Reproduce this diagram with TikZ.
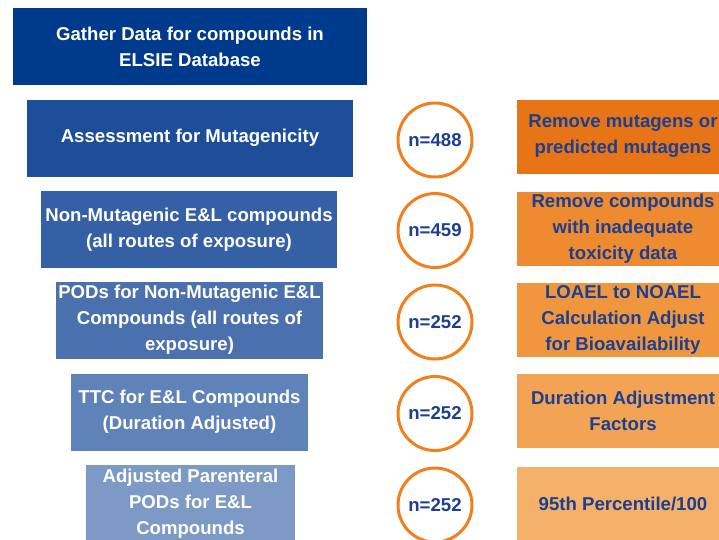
\documentclass[tikz,border=0pt]{standalone}
\usepackage{fontspec}
\setmainfont{Liberation Sans}
\definecolor{bA}{HTML}{003A8C}
\definecolor{bB}{HTML}{1E4E9A}
\definecolor{bC}{HTML}{3560A5}
\definecolor{bD}{HTML}{4A70AE}
\definecolor{bE}{HTML}{5F82B8}
\definecolor{bF}{HTML}{7D9AC6}
\definecolor{oA}{HTML}{E87418}
\definecolor{oB}{HTML}{EE8A2F}
\definecolor{oC}{HTML}{F0963F}
\definecolor{oD}{HTML}{F2A454}
\definecolor{oE}{HTML}{F5B06A}
\definecolor{ring}{HTML}{F07F1E}
\definecolor{navy}{HTML}{1C3F8F}
\begin{document}
\begin{tikzpicture}[x=1pt,y=-1pt,
  bluebox/.style={fill=#1, draw=none, text=white, align=center, minimum height=77pt, inner sep=0pt,
    font=\fontsize{18.6}{26}\selectfont\bfseries},
  orangebox/.style={fill=#1, draw=none, text=navy, align=center, minimum height=74pt, minimum width=212pt, inner sep=0pt,
    font=\fontsize{18.6}{26}\selectfont\bfseries},
  countring/.style={circle, draw=ring, line width=3pt, fill=white, minimum size=74pt, inner sep=0pt, text=navy,
    font=\fontsize{18.6}{22}\selectfont\bfseries}]
\useasboundingbox (0,0) rectangle (719,539);
\clip (0,0) rectangle (719,539);
\fill[white] (0,0) rectangle (719,539);
% blue column
\node[bluebox=bA, minimum width=354pt] (g) at (190,46.5) {Gather Data for compounds in\\ELSIE Database};
\node[bluebox=bB, minimum width=326pt] (m) at (190,138) {Assessment for Mutagenicity};
\node[bluebox=bC, minimum width=296pt] (nm) at (189,229.5) {Non-Mutagenic E\&L compounds\\(all routes of exposure)};
\node[bluebox=bD, minimum width=267pt] (pod) at (189.5,320) {PODs for Non-Mutagenic E\&L\\Compounds (all routes of\\exposure)};
\node[bluebox=bE, minimum width=237pt] (ttc) at (189.5,412) {TTC for E\&L Compounds\\(Duration Adjusted)};
\node[bluebox=bF, minimum width=209pt] (adj) at (190.5,503.5) {Adjusted Parenteral\\PODs for E\&L\\Compounds};
% counts
\node[countring] (c1) at (435,140) {n=488};
\node[countring] (c2) at (435,230.5) {n=459};
\node[countring] (c3) at (435,322) {n=252};
\node[countring] (c4) at (435,413.5) {n=252};
\node[countring] (c5) at (435,505) {n=252};
% orange column
\node[orangebox=oA] (r1) at (623,136.5) {Remove mutagens or\\predicted mutagens};
\node[orangebox=oB] (r2) at (623,228.5) {Remove compounds\\with inadequate\\toxicity data};
\node[orangebox=oC] (r3) at (623,320) {LOAEL to NOAEL\\Calculation Adjust\\for Bioavailability};
\node[orangebox=oD] (r4) at (623,410.5) {Duration Adjustment\\Factors};
\node[orangebox=oE] (r5) at (623,504) {95th Percentile/100};
\end{tikzpicture}
\end{document}
